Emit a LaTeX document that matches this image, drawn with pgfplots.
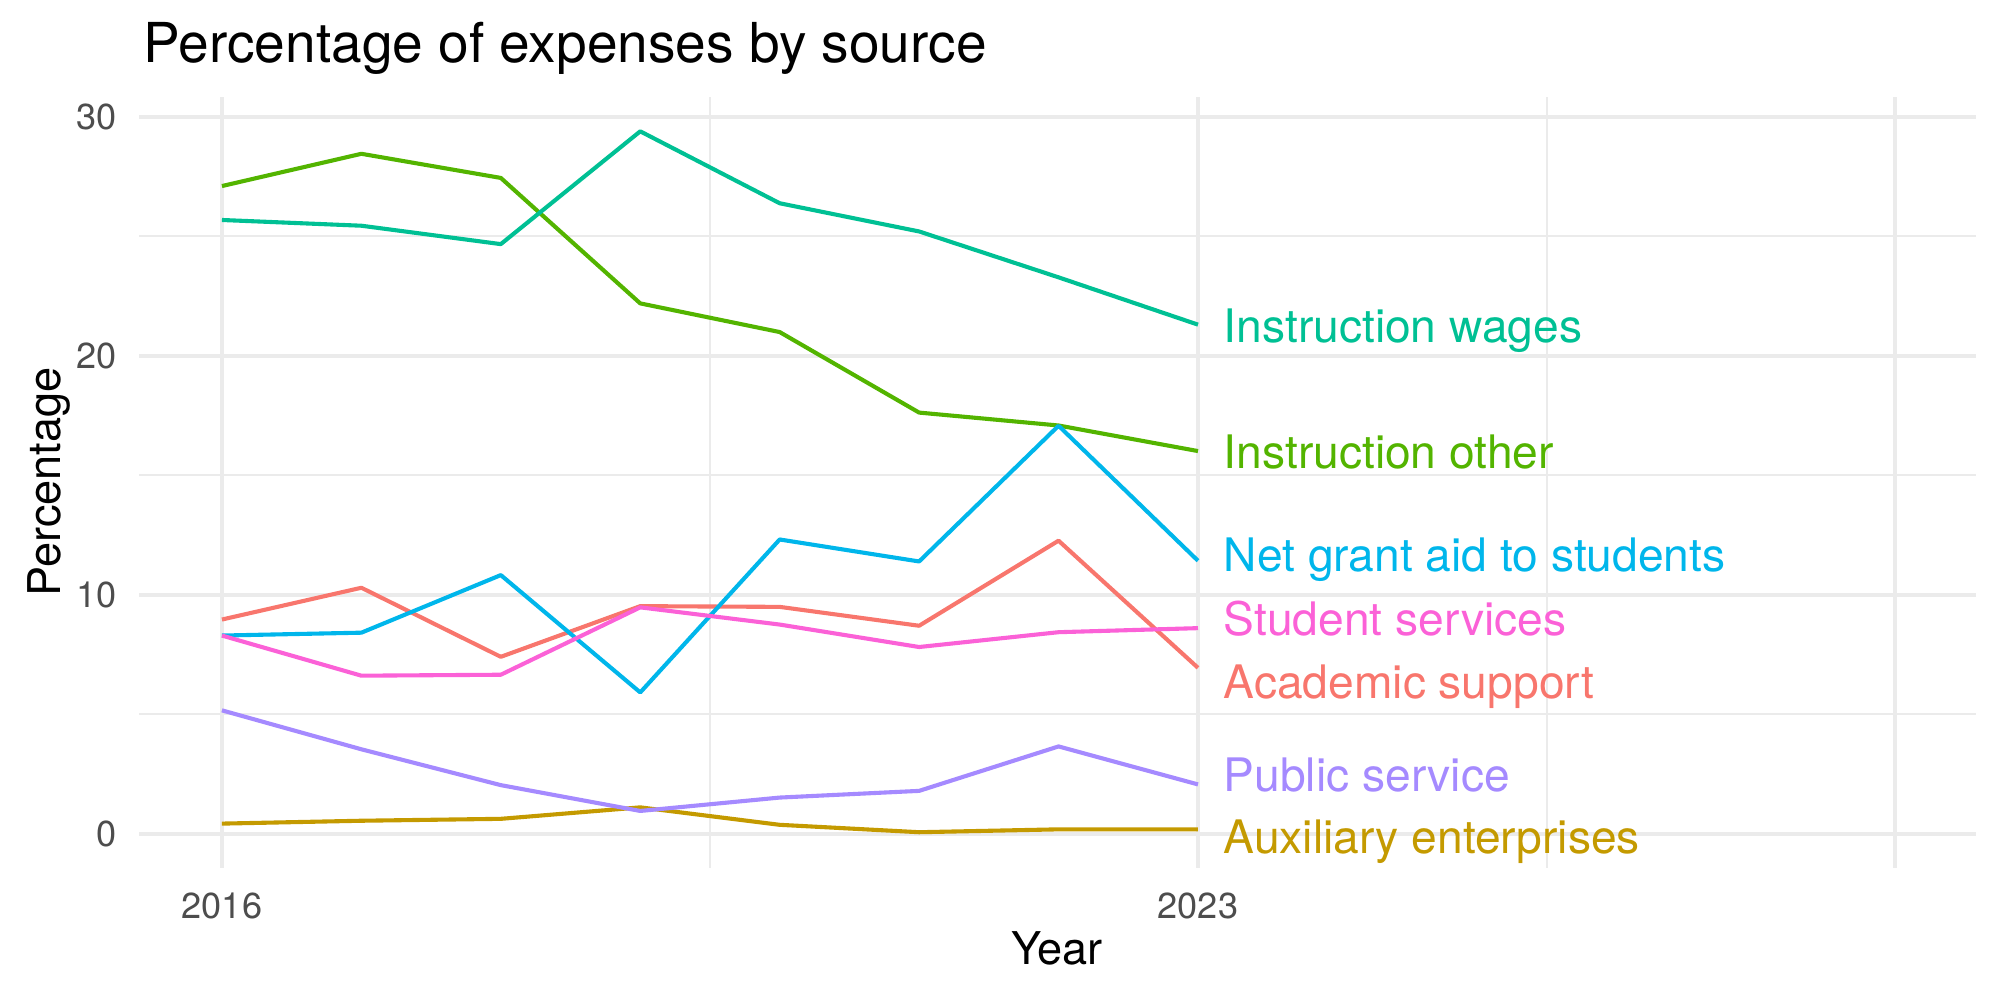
\documentclass[border=0pt]{standalone}
\usepackage{pgfplots}
\pgfplotsset{compat=1.18}
\usepackage{pgfplotstable}
\usepackage{fontspec}
\setmainfont{TeX Gyre Heros}

\definecolor{gridgrey}{HTML}{EBEBEB}
\definecolor{ticktext}{HTML}{4D4D4D}
\definecolor{cAcad}{HTML}{F8766D}
\definecolor{cAux}{HTML}{C49A00}
\definecolor{cInsO}{HTML}{53B400}
\definecolor{cInsW}{HTML}{00C094}
\definecolor{cGrant}{HTML}{00B6EB}
\definecolor{cPub}{HTML}{A58AFF}
\definecolor{cStud}{HTML}{FB61D7}

% Share of expenses (percent) by source and year
\pgfplotstableread{
year acad aux inso insw grant pub stud
2016 8.97  0.43 27.11 25.69  8.30 5.17 8.30
2017 10.30 0.55 28.46 25.45  8.42 3.54 6.62
2018 7.41  0.63 27.45 24.68 10.83 2.04 6.66
2019 9.53  1.11 22.20 29.40  5.92 0.96 9.48
2020 9.50  0.38 21.00 26.39 12.32 1.52 8.76
2021 8.71  0.07 17.63 25.21 11.40 1.80 7.82
2022 12.27 0.19 17.09 23.29 17.08 3.66 8.44
2023 6.95  0.19 16.02 21.31 11.43 2.07 8.61
}\expenses

\begin{document}
\begin{tikzpicture}
\path[use as bounding box] (0,0) rectangle (576pt,288pt);
\begin{axis}[
  at={(40.03pt,38.13pt)}, anchor=south west,
  scale only axis, width=529.06pt, height=221.88pt,
  xmin=2015.405, xmax=2028.58,
  ymin=-1.41, ymax=30.83,
  axis line style={draw=none},
  major tick length=0pt, minor tick length=0pt,
  xtick={2016,2023,2028}, xticklabels={2016,2023,},
  minor xtick={2019.5,2025.5},
  ytick={0,10,20,30}, minor ytick={5,15,25},
  grid=both,
  major grid style={color=gridgrey, line width=1.15pt},
  minor grid style={color=gridgrey, line width=0.58pt},
  /pgf/number format/assume math mode=true,
  /pgf/number format/1000 sep={},
  ticklabel style={font=\fontsize{10.4}{12}\selectfont, text=ticktext, inner sep=0pt},
  yticklabel style={anchor=east, xshift=-6.3pt},
  xticklabel style={anchor=north, yshift=-7pt},
  clip=false,
  every axis plot/.append style={line width=1.18pt, line join=round, no markers},
]
\addplot[color=cAcad]  table[x=year, y=acad]  {\expenses};
\addplot[color=cAux]   table[x=year, y=aux]   {\expenses};
\addplot[color=cInsO]  table[x=year, y=inso]  {\expenses};
\addplot[color=cInsW]  table[x=year, y=insw]  {\expenses};
\addplot[color=cGrant] table[x=year, y=grant] {\expenses};
\addplot[color=cPub]   table[x=year, y=pub]   {\expenses};
\addplot[color=cStud]  table[x=year, y=stud]  {\expenses};

\begin{scope}[every node/.style={anchor=base west, inner sep=0pt, font=\fontsize{13.3}{15}\selectfont}]
\node[text=cInsW]  at (axis cs:2023.18,20.57) {Instruction wages};
\node[text=cInsO]  at (axis cs:2023.18,15.28) {Instruction other};
\node[text=cGrant] at (axis cs:2023.18,10.97) {Net grant aid to students};
\node[text=cStud]  at (axis cs:2023.18,8.32)  {Student services};
\node[text=cAcad]  at (axis cs:2023.18,5.68)  {Academic support};
\node[text=cPub]   at (axis cs:2023.18,1.76)  {Public service};
\node[text=cAux]   at (axis cs:2023.18,-0.84) {Auxiliary enterprises};
\end{scope}
\end{axis}

\node[anchor=base west, inner sep=0pt, font=\fontsize{15.85}{18}\selectfont] at (41.18pt,270.1pt) {Percentage of expenses by source};
\node[anchor=base, inner sep=0pt, rotate=90, font=\fontsize{13}{15}\selectfont] at (17.45pt,149.2pt) {Percentage};
\node[anchor=base, inner sep=0pt, font=\fontsize{13}{15}\selectfont] at (304.4pt,10.08pt) {Year};
\end{tikzpicture}
\end{document}
